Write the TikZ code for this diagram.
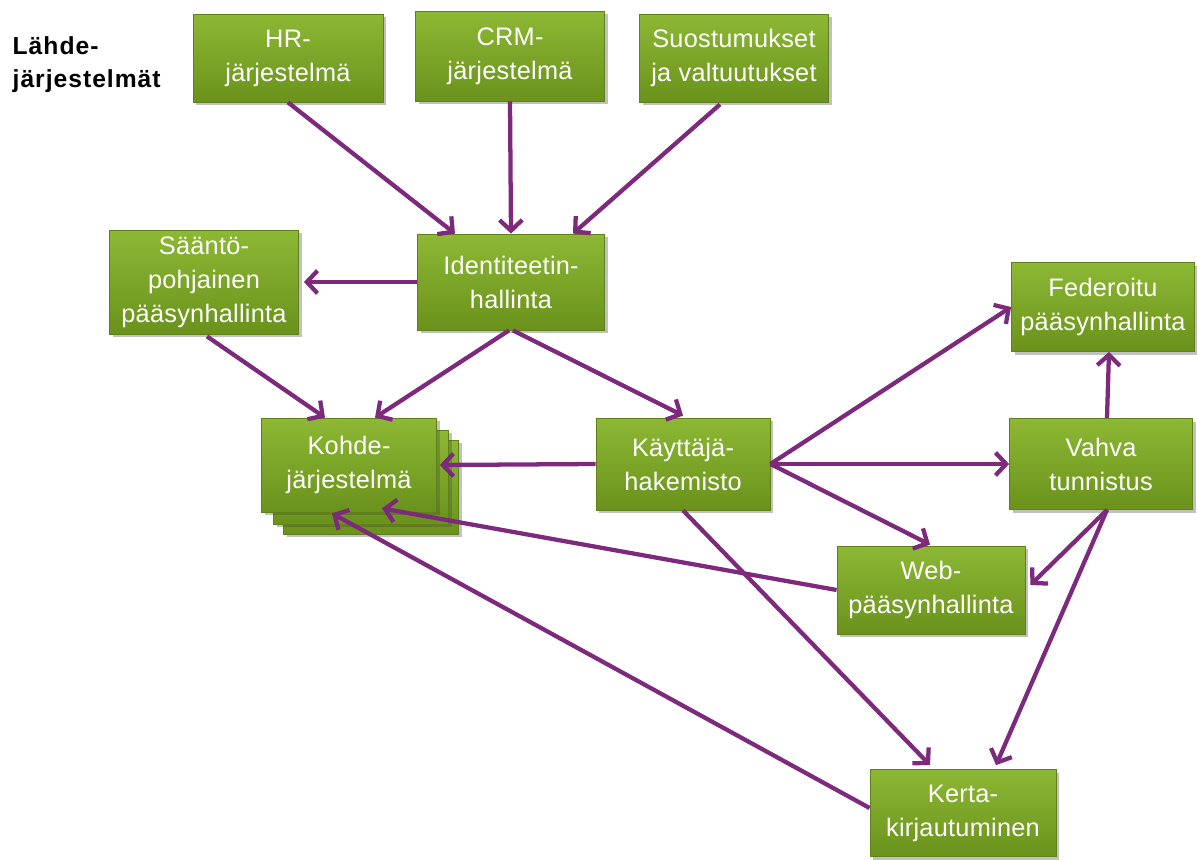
\documentclass[tikz,border=0pt]{standalone}
\usepackage{fontspec}
\setmainfont{Liberation Sans}
\usetikzlibrary{arrows.meta,calc,shadows}
\definecolor{gtop}{HTML}{8DB834}
\definecolor{gbot}{HTML}{6A921C}
\definecolor{gline}{HTML}{5E8218}
\definecolor{arr}{HTML}{7E2A7C}
\begin{document}
\begin{tikzpicture}[x=0.75pt,y=-0.75pt,
  box/.style n args={2}{draw=gline, line width=0.6pt, top color=gtop, bottom color=gbot,
    minimum width=#1*0.75pt, minimum height=#2*0.75pt, inner sep=0pt,
    text=white, align=center, font=\fontsize{19}{25.5}\selectfont\addfontfeature{LetterSpace=1}},
  shad/.style={drop shadow={shadow xshift=2.5pt, shadow yshift=-2.5pt, opacity=0.35, fill=black!70}},
  conn/.style={draw=arr, line width=3.2pt, -{Straight Barb[length=8pt,width=17pt,line width=3.2pt]}}]
\useasboundingbox (0,0) rectangle (1197,860);

\node[anchor=north west, align=left, font=\bfseries\fontsize{18.5}{25}\selectfont\addfontfeature{LetterSpace=4}] (lbl) at (8,32) {Lähde-\\järjestelmät};

\node[box={190}{88}, shad] (hr) at (288,58) {HR-\\järjestelmä};
\node[box={189}{90}, shad] (crm) at (510,56) {CRM-\\järjestelmä};
\node[box={189}{88}, shad] (suo) at (734,58) {Suostumukset\\ja valtuutukset};
\node[box={189}{104}, shad] (saa) at (204,282) {Sääntö-\\pohjainen\\pääsynhallinta};
\node[box={187}{96}, shad] (ide) at (511,282) {Identiteetin-\\hallinta};
\node[box={183}{89}, shad] (fed) at (1103,307) {Federoitu\\pääsynhallinta};
\node[box={175}{94}, shad] (koh3) at (371,487) {};
\node[box={175}{94}, shad] (koh2) at (361,477) {};
\node[box={175}{94}, shad] (koh) at (349,465) {Kohde-\\järjestelmä};
\node[box={174}{92}, shad] (kay) at (683,464) {Käyttäjä-\\hakemisto};
\node[box={183}{91}, shad] (vah) at (1101,464) {Vahva\\tunnistus};
\node[box={188}{88}, shad] (web) at (931,590) {Web-\\pääsynhallinta};
\node[box={186}{87}, shad] (ker) at (963,813) {Kerta-\\kirjautuminen};

\draw[conn] (hr.south) -- ($(ide.north)+(-56,0)$);
\draw[conn] (crm.south) -- (ide.north);
\draw[conn] ($(suo.south)+(-14,2)$) -- ($(ide.north)+(62,0)$);
\draw[conn] (ide.west) -- ($(saa.east)+(5,0)$);
\draw[conn] ($(saa.south)+(3,2)$) -- ($(koh.north)+(-24,0)$);
\draw[conn] ($(ide.south)+(-2,0)$) -- ($(koh.north)+(26,0)$);
\draw[conn] ($(ide.south)+(2,0)$) -- ($(kay.north)+(0,-2)$);
\draw[conn] (kay.west) -- ($(koh.east)+(3,0)$);
\draw[conn] (kay.east) -- (fed.west);
\draw[conn] (kay.east) -- (vah.west);
\draw[conn] (kay.east) -- ($(web.north)+(-1,-1)$);
\draw[conn] (kay.south) -- ($(ker.north)+(-33,-4)$);
\draw[conn] ($(vah.north)+(6,0)$) -- ($(fed.south)+(6,0)$);
\draw[conn] ($(vah.south)+(6,0)$) -- ($(web.east)+(5,-5)$);
\draw[conn] ($(vah.south)+(6,0)$) -- ($(ker.north)+(33,-4)$);
\draw[conn] (web.west) -- ($(koh.south)+(33,-4)$);
\draw[conn] ($(ker.west)+(0,-5)$) -- ($(koh.south)+(-17,1)$);
\end{tikzpicture}
\end{document}
